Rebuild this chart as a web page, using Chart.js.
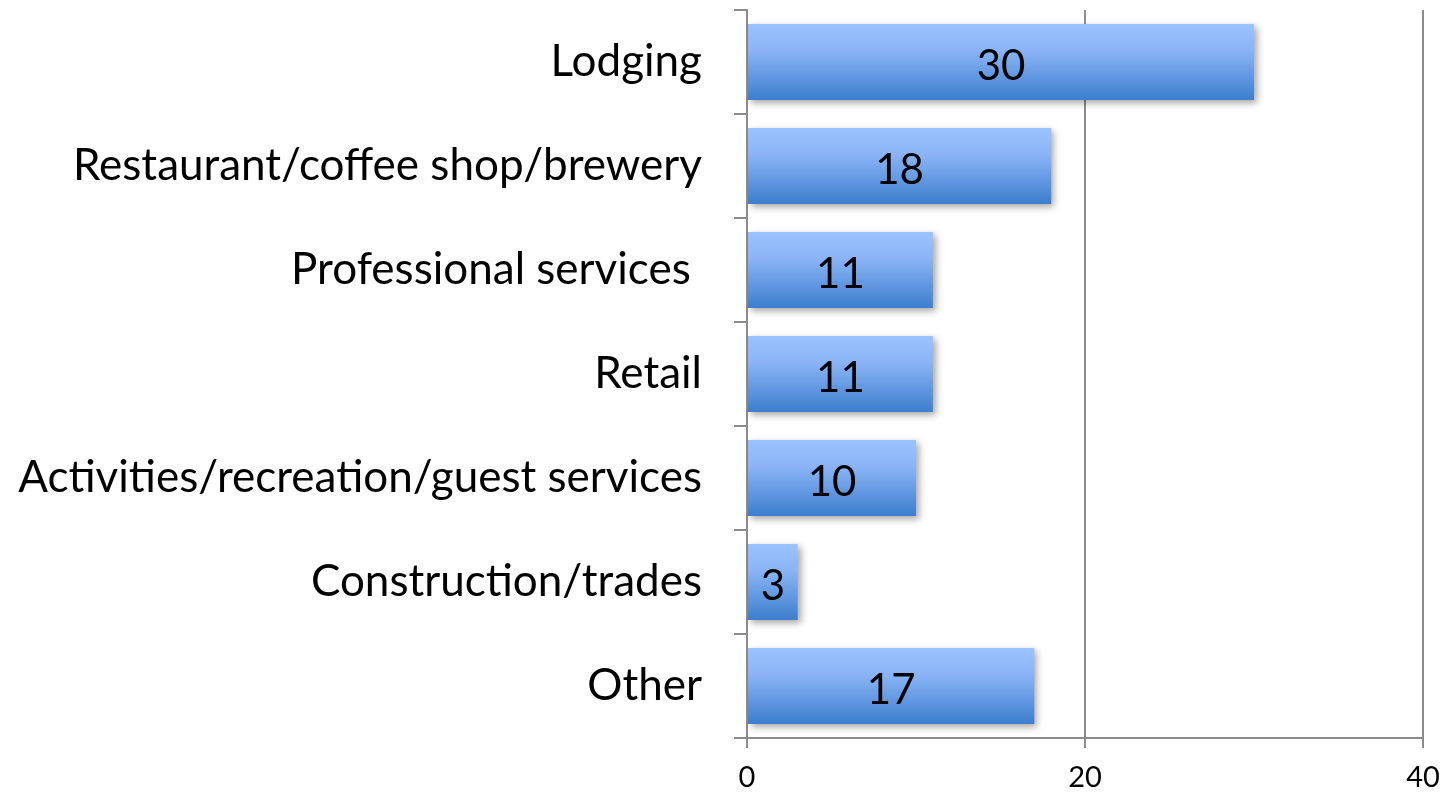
<!DOCTYPE html>
<html>
<head>
<meta charset="utf-8">
<script src="https://cdn.jsdelivr.net/npm/chart.js@4/dist/chart.umd.min.js"></script>
<style>
  html, body { margin: 0; padding: 0; background: #fff; }
  #wrap { width: 1443px; height: 793px; position: relative; }
</style>
</head>
<body>
<div id="wrap"><canvas id="myChart"></canvas></div>
<script>
const CATEGORIES = [
  "Lodging",
  "Restaurant/coffee shop/brewery",
  "Professional services ",
  "Retail",
  "Activities/recreation/guest services",
  "Construction/trades",
  "Other",
]
const VALUES = [30, 18, 11, 11, 10, 3, 17]
const X_TICKS = [0, 20, 40]
const FONT = "Lato, 'Open Sans', sans-serif"
const AXIS_COLOR = "#8c8c8c"

function barGradient(context) {
  const chart = context.chart
  const yScale = chart.scales.y
  if (!chart.chartArea || !yScale) return "#6a9ee8"
  const center = yScale.getPixelForValue(context.dataIndex)
  const half = (yScale.height / CATEGORIES.length) * 0.73 / 2
  const g = chart.ctx.createLinearGradient(0, center - half, 0, center + half)
  g.addColorStop(0, "#9cc3ff")
  g.addColorStop(0.35, "#8ab4f6")
  g.addColorStop(1, "#3d7ecd")
  return g
}

const shadowPlugin = {
  id: "barShadow",
  beforeDatasetsDraw(chart) {
    const ctx = chart.ctx
    ctx.save()
    ctx.shadowColor = "rgba(0,0,0,0.35)"
    ctx.shadowBlur = 7
    ctx.shadowOffsetX = 3
    ctx.shadowOffsetY = 3
  },
  afterDatasetsDraw(chart) {
    chart.ctx.restore()
  },
}

const valueLabelPlugin = {
  id: "valueLabels",
  afterDatasetsDraw(chart) {
    const ctx = chart.ctx
    const meta = chart.getDatasetMeta(0)
    ctx.save()
    ctx.fillStyle = "#000"
    ctx.font = "42px " + FONT
    ctx.textAlign = "center"
    ctx.textBaseline = "middle"
    meta.data.forEach((bar, i) => {
      const x = (bar.base + bar.x) / 2
      ctx.fillText(String(VALUES[i]), x, bar.y + 4)
    })
    ctx.restore()
  },
}

const config = {
  type: "bar",
  data: {
    labels: CATEGORIES,
    datasets: [
      {
        data: VALUES,
        backgroundColor: barGradient,
        borderWidth: 0,
        categoryPercentage: 1,
        barPercentage: 0.73,
      },
    ],
  },
  options: {
    indexAxis: "y",
    responsive: true,
    maintainAspectRatio: false,
    animation: false,
    layout: { padding: { top: 10, right: 20, left: 0, bottom: 0 } },
    plugins: {
      legend: { display: false },
      tooltip: { enabled: false },
    },
    scales: {
      x: {
        min: 0,
        max: 40,
        afterBuildTicks(scale) {
          scale.ticks = X_TICKS.map((v) => ({ value: v }))
        },
        grid: {
          color: AXIS_COLOR,
          lineWidth: 2,
          drawOnChartArea: true,
          drawTicks: true,
          tickLength: 10,
        },
        border: { display: true, color: AXIS_COLOR, width: 2 },
        ticks: {
          color: "#000",
          font: { family: FONT, size: 29 },
          padding: 12,
          maxRotation: 0,
        },
        afterFit(scale) {
          scale.height = 55
          scale.paddingLeft = 0
          scale.paddingRight = 0
        },
      },
      y: {
        grid: {
          offset: true,
          color: AXIS_COLOR,
          lineWidth: 2,
          drawOnChartArea: false,
          drawTicks: true,
          tickLength: 13,
        },
        border: { display: true, color: AXIS_COLOR, width: 2 },
        ticks: {
          color: "#000",
          font: { family: FONT, size: 44 },
          padding: 32,
        },
        afterFit(scale) {
          scale.width = 747
          scale.paddingTop = 0
          scale.paddingBottom = 0
        },
      },
    },
  },
  plugins: [shadowPlugin, valueLabelPlugin],
}

const ctx = document.getElementById("myChart").getContext("2d")
var myChart = new Chart(ctx, config)
</script>
</body>
</html>
